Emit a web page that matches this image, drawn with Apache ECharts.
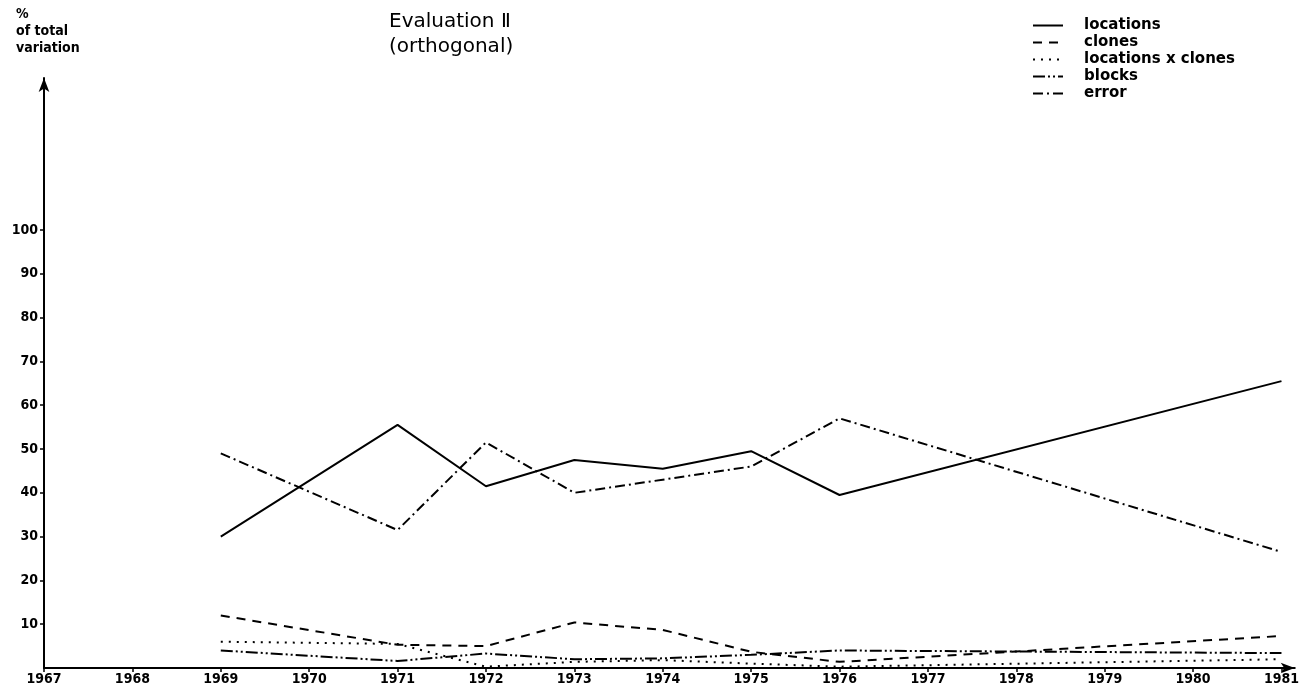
<!DOCTYPE html>
<html>
<head>
<meta charset="utf-8">
<script src="https://cdn.jsdelivr.net/npm/echarts@6/dist/echarts.min.js"></script>
<style>html,body{margin:0;padding:0;background:#fff}#c{width:1302px;height:689px}</style>
</head>
<body>
<div id="c"></div>
<script>
const years = [1969, 1971, 1972, 1973, 1974, 1975, 1976, 1981];
const locations = [30, 55.5, 41.5, 47.5, 45.5, 49.5, 39.5, 65.5];
const clones = [12, 5.3, 5, 10.4, 8.7, 3.7, 1.4, 7.3];
const locationsXClones = [6, 5.5, 0.3, 1.4, 1.8, 1, 0.3, 2];
const blocks = [4, 1.6, 3.3, 2, 2.2, 3, 4, 3.4];
const error = [49, 31.5, 51.5, 40, 43, 46, 57, 26.5];
const xTicks = [1967,1968,1969,1970,1971,1972,1973,1974,1975,1976,1977,1978,1979,1980,1981];
const yTicks = [10,20,30,40,50,60,70,80,90,100];

const pair = arr => years.map((y, i) => [y, arr[i]]);
const mk = (name, arr, type) => ({
  name, type: 'line', data: pair(arr), symbol: 'none', silent: true,
  lineStyle: { color: '#000', width: 2, type },
  itemStyle: { color: '#000' }
});
const labelFont = "'DejaVu Sans Condensed', sans-serif";

const chart = echarts.init(document.getElementById('c'), null, { renderer: 'canvas' });
chart.setOption({
  animation: false,
  backgroundColor: '#fff',
  title: [
    { text: 'Evaluation Ⅱ\n(orthogonal)', left: 384, top: 4,
      textStyle: { fontFamily: 'DejaVu Sans', fontSize: 20, fontWeight: 'normal', color: '#000', lineHeight: 25 } },
    { text: '%\nof total\nvariation', left: 11, top: 1,
      textStyle: { fontFamily: 'DejaVu Sans Condensed', fontSize: 14, fontWeight: 'bold', color: '#000', lineHeight: 17 } }
  ],
  legend: {
    orient: 'vertical', left: 1027, top: 13, itemWidth: 30, itemHeight: 14, itemGap: 2,
    selectedMode: false,
    itemStyle: { color: 'rgba(0,0,0,0)', borderColor: 'rgba(0,0,0,0)', borderWidth: 0, opacity: 0 },
    textStyle: { fontFamily: 'DejaVu Sans', fontSize: 15, fontWeight: 'bold', color: '#000', lineHeight: 15, padding: [0, 0, 0, 16] },
    data: ['locations', 'clones', 'locations x clones', 'blocks', 'error']
  },
  grid: { left: 44, right: 4, top: 78, bottom: 21, containLabel: false },
  xAxis: {
    type: 'value', min: 1967, max: 1981.15,
    splitLine: { show: false },
    axisLine: { lineStyle: { color: '#000', width: 2 }, symbol: ['none', 'arrow'], symbolSize: [8, 14] },
    axisTick: { customValues: xTicks, length: 4, lineStyle: { color: '#000', width: 1.5 } },
    axisLabel: { customValues: xTicks, color: '#000', fontFamily: labelFont, fontWeight: 'bold', fontSize: 14, margin: 4,
      formatter: v => String(v) }
  },
  yAxis: {
    type: 'value', min: 0, max: 134.7,
    splitLine: { show: false },
    axisLine: { show: true, lineStyle: { color: '#000', width: 2 }, symbol: ['none', 'arrow'], symbolSize: [8, 14] },
    axisTick: { show: true, customValues: yTicks, length: 4, lineStyle: { color: '#000', width: 1.5 } },
    axisLabel: { customValues: yTicks, color: '#000', fontFamily: labelFont, fontWeight: 'bold', fontSize: 14, margin: 6 }
  },
  series: [
    mk('locations', locations, 'solid'),
    mk('clones', clones, [9, 7]),
    mk('locations x clones', locationsXClones, [2, 6]),
    mk('blocks', blocks, [12, 3, 2, 3, 2, 3]),
    mk('error', error, [10, 4, 2, 4])
  ]
});
</script>
</body>
</html>
